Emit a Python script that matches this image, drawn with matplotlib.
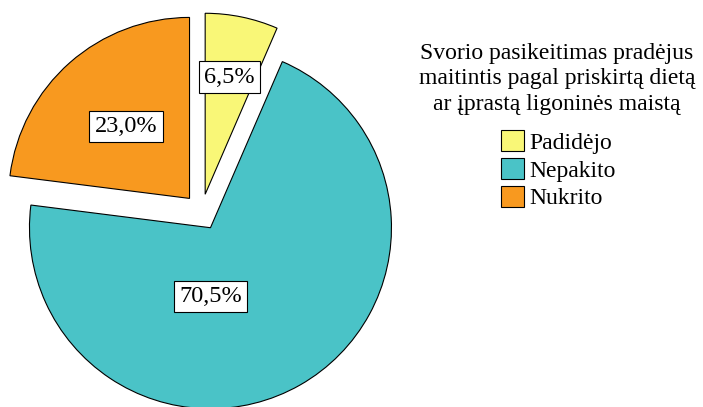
import numpy as np
import matplotlib
matplotlib.use('Agg')
import matplotlib.pyplot as plt

plt.rcParams['font.family'] = ['Liberation Serif', 'DejaVu Serif']

categories = ['Padidėjo', 'Nepakito', 'Nukrito']
shares = [6.5, 70.5, 23.0]
colors = ['#f9f777', '#4ac3c7', '#f8991f']
legend_title = 'Svorio pasikeitimas pradėjus\nmaitintis pagal priskirtą dietą\nar įprastą ligoninės maistą'

W, H = 703, 407
R = 181.0  # pie radius in pixels
cx, cy = 201.5, 212.0  # pie centre, pixels from top-left

fig = plt.figure(figsize=(W / 100, H / 100), dpi=100)
ax = fig.add_axes([0, 0, 1, 1])

wedges, texts, autotexts = ax.pie(
    shares, colors=colors, startangle=90, counterclock=False,
    explode=[0.1, 0.1, 0.1], radius=1.0,
    autopct=lambda p: f'{p:.1f}%'.replace('.', ','),
    wedgeprops=dict(edgecolor='black', linewidth=0.8),
    textprops=dict(fontsize=17.5, color='black'))

ax.set_xlim(-cx / R, (W - cx) / R)
ax.set_ylim(-(H - cy) / R, cy / R)
ax.set_aspect('auto')
ax.axis('off')

# label placement: distance along bisector, measured from exploded wedge centre
label_dist = [0.66, None, 0.53]
for w, t, d in zip(wedges, autotexts, label_dist):
    mid = np.deg2rad((w.theta1 + w.theta2) / 2)
    x0, y0 = w.center
    if d is None:
        t.set_position((x0, y0 - 0.38))
    else:
        t.set_position((x0 + d * np.cos(mid), y0 + d * np.sin(mid)))
    t.set_bbox(dict(boxstyle='square,pad=0.22', facecolor='white',
                    edgecolor='black', linewidth=0.8))

fig.text(557 / W, 1 - 43 / H, legend_title, ha='center', va='top',
         fontsize=17, linespacing=1.28, multialignment='center')

leg = fig.legend(wedges, categories,
                 loc='upper center', bbox_to_anchor=(558 / W, 1 - 130 / H),
                 frameon=False, fontsize=17,
                 handlelength=1.0, handleheight=1.0, handletextpad=0.2,
                 labelspacing=0.18, borderpad=0, borderaxespad=0)

fig.savefig('out.png', dpi=100)
